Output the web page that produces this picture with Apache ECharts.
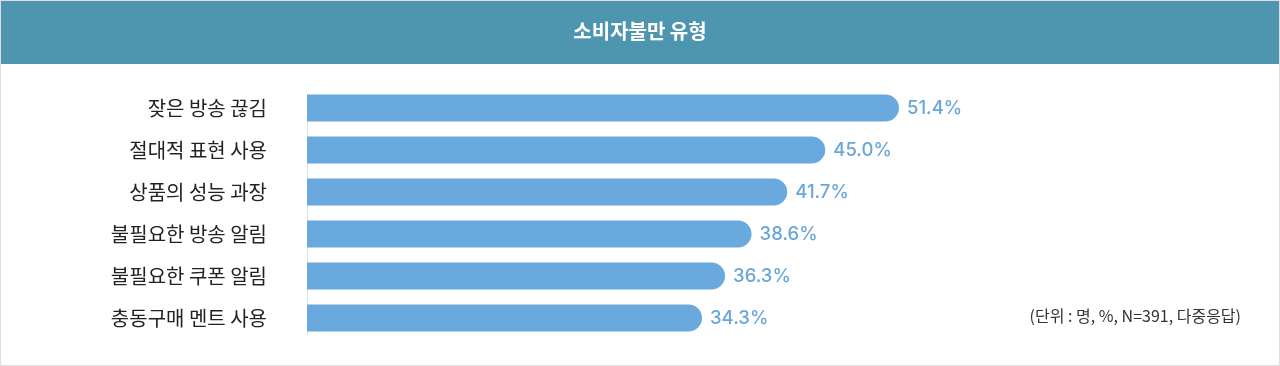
<!DOCTYPE html>
<html><head><meta charset="utf-8">
<script src="https://cdn.jsdelivr.net/npm/echarts@6/dist/echarts.min.js"></script>
<style>
html,body{margin:0;padding:0;background:#fff;}
#c{width:1280px;height:366px;box-sizing:border-box;border:1px solid #dddddd;}
</style></head><body>
<div id="c"></div>
<script>
const title = '소비자불만 유형';
const categories = ['잦은 방송 끊김','절대적 표현 사용','상품의 성능 과장','불필요한 방송 알림','불필요한 쿠폰 알림','충동구매 멘트 사용'];
const values = [51.4, 45.0, 41.7, 38.6, 36.3, 34.3];
const note = '(단위 : 명, %, N=391, 다중응답)';

const chart = echarts.init(document.getElementById('c'), null, {renderer:'canvas'});
const font = '"Noto Sans CJK KR", "Noto Sans", sans-serif';
chart.setOption({
  animation:false,
  textStyle:{fontFamily:font},
  graphic:[
    {type:'rect', left:-1, top:-1, shape:{width:1280, height:64}, style:{fill:'#4e96b0'}, z:0},
    {type:'text', left:'center', top:20, style:{text:title, fill:'#ffffff', font:'bold 20px "Noto Sans CJK KR", sans-serif'}},
    {type:'text', right:38, top:307, style:{text:note, fill:'#333333', font:'16px "Noto Sans CJK KR", sans-serif'}},
    {type:'line', shape:{x1:306.5, y1:92, x2:306.5, y2:334}, style:{stroke:'#e3e3e3', lineWidth:1}, z:1}
  ],
  grid:{left:306, top:86, width:691, height:252, containLabel:false},
  xAxis:{type:'value', min:0, max:60, show:false},
  yAxis:{type:'category', data:categories, inverse:true,
    axisLine:{show:false},
    axisTick:{show:false},
    axisLabel:{color:'#222222', fontSize:20, margin:40, fontFamily:font}
  },
  series:[{
    type:'bar', data:values, barWidth:27, z:2,
    itemStyle:{color:'#6aa9de', borderRadius:[0,14,14,0]},
    label:{show:true, position:'right', distance:8, formatter:p=>p.value.toFixed(1)+'%',
      color:'#6aa6da', fontSize:18.5, fontWeight:500, fontFamily:'Inter, "Noto Sans", sans-serif'}
  }]
});
</script>
</body></html>
